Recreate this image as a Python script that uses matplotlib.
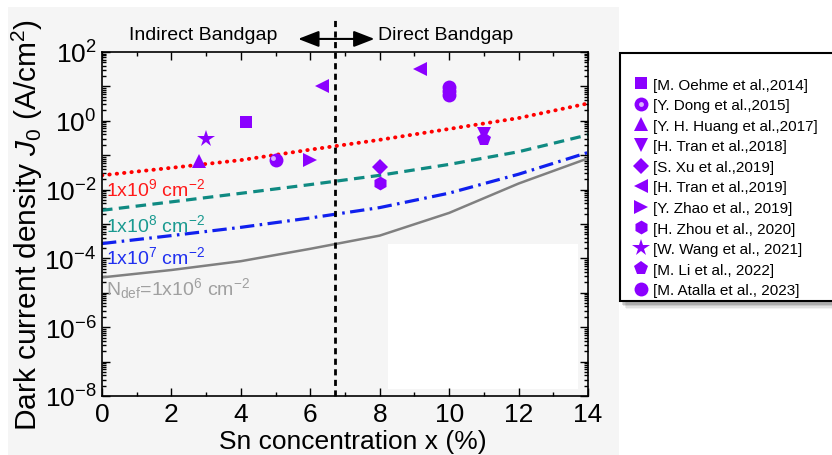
import numpy as np
import matplotlib.pyplot as plt
from matplotlib import transforms
from matplotlib.lines import Line2D
from matplotlib.patches import Rectangle
from matplotlib.legend_handler import HandlerTuple
from matplotlib.ticker import LogLocator, MultipleLocator, FuncFormatter, NullFormatter

plt.rcParams['font.family'] = ['Liberation Sans', 'DejaVu Sans']
plt.rcParams['mathtext.fontset'] = 'custom'
plt.rcParams['mathtext.rm'] = 'Liberation Sans'
plt.rcParams['mathtext.it'] = 'Liberation Sans:italic'
plt.rcParams['mathtext.bf'] = 'Liberation Sans:bold'
plt.rcParams['axes.unicode_minus'] = False

# ---- modelled dark current density vs Sn content (A/cm^2) ----
sn_model = [0, 2, 4, 6, 8, 10, 12, 14]
j0_ndef_1e9 = [0.026, 0.043, 0.072, 0.145, 0.28, 0.58, 1.2, 3.2]
j0_ndef_1e8 = [0.0025, 0.0044, 0.0078, 0.014, 0.026, 0.054, 0.126, 0.39]
j0_ndef_1e7 = [2.7e-4, 4.6e-4, 8.0e-4, 1.5e-3, 3.0e-3, 7.9e-3, 0.028, 0.12]
j0_ndef_1e6 = [2.8e-5, 4.6e-5, 8.3e-5, 1.9e-4, 4.6e-4, 2.1e-3, 0.015, 0.081]

# ---- reported GeSn detectors ----
ref_labels = ['[M. Oehme et al.,2014]', '[Y. Dong et al.,2015]',
              '[Y. H. Huang et al.,2017]', '[H. Tran et al.,2018]',
              '[S. Xu et al.,2019]', '[H. Tran et al.,2019]',
              '[Y. Zhao et al., 2019]', '[H. Zhou et al., 2020]',
              '[W. Wang et al., 2021]', '[M. Li et al., 2022]',
              '[M. Atalla et al., 2023]']
ref_markers = ['s', 'o', '^', 'v', 'D', '<', '>', 'h', '*', 'p', 'o']
ref_msize = [9, 10, 10, 10, 8, 10, 10, 10, 13, 10, 10]
ref_sn = [[4.15], [5.0], [2.8], [11.0], [8.0], [6.35, 9.15], [6.0], [8.0],
          [3.0], [11.0], [10.0, 10.0, 10.0]]
ref_j0 = [[0.92], [0.073], [0.068], [0.42], [0.046], [10.2, 31.0], [0.073],
          [0.016], [0.30], [0.29], [5.8, 7.5, 9.8]]

purple = '#8b00ff'
bg = '#f5f5f5'

fig = plt.figure(figsize=(8.32, 4.56), dpi=100)
fig.patches.append(Rectangle((8 / 832, 0), (619 - 8) / 832, 1 - 8 / 456,
                             transform=fig.transFigure, facecolor=bg,
                             edgecolor='none', zorder=-10))

ax = fig.add_axes([102 / 832, 1 - 397 / 456, (588 - 102) / 832, (397 - 53) / 456])
ax.set_facecolor(bg)
ax.set_yscale('log')
ax.set_xlim(0, 14)
ax.set_ylim(1e-8, 1e2)

# blank patch behind the lower right corner
ax.add_patch(Rectangle((8.24, 10 ** -7.8), 13.71 - 8.24, 10 ** -3.58 - 10 ** -7.8,
                       facecolor='white', edgecolor='none', zorder=0))

ax.plot(sn_model, j0_ndef_1e9, color='#ff0000', lw=2.8,
        linestyle=(0, (0.1, 1.8)), dash_capstyle='round', zorder=2)
ax.plot(sn_model, j0_ndef_1e8, color='#0f8a82', lw=2.3,
        linestyle=(0, (3.3, 2.0)), zorder=2)
ax.plot(sn_model, j0_ndef_1e7, color='#1020ee', lw=2.3,
        linestyle=(0, (4.5, 1.7, 0.8, 1.7)), zorder=2)
ax.plot(sn_model, j0_ndef_1e6, color='#808080', lw=1.8, zorder=2)

ax.text(0.12, 10 ** -1.95, r'1x10$^9$ cm$^{-2}$', color='#ff1a1a',
        fontsize=14, va='center', ha='left')
ax.text(0.12, 10 ** -3.0, r'1x10$^8$ cm$^{-2}$', color='#1a9a90',
        fontsize=14, va='center', ha='left')
ax.text(0.12, 10 ** -3.93, r'1x10$^7$ cm$^{-2}$', color='#2030f0',
        fontsize=14, va='center', ha='left')
ax.text(0.12, 10 ** -4.86, r'N$_{\mathrm{def}}$=1x10$^6$ cm$^{-2}$', color='#a0a0a0',
        fontsize=14, va='center', ha='left')

# indirect / direct crossover
ax.axvline(6.71, ymin=0, ymax=1.105, color='black', lw=2,
           linestyle=(0, (2.2, 1.6)), clip_on=False, zorder=3)
ax.annotate('', xy=(5.65, 1.038), xytext=(7.85, 1.038),
            xycoords=('data', 'axes fraction'), textcoords=('data', 'axes fraction'),
            arrowprops=dict(arrowstyle='<|-|>, head_length=0.9, head_width=0.35',
                            color='black', lw=1.5, mutation_scale=14,
                            shrinkA=0, shrinkB=0), annotation_clip=False)
ax.text(5.04, 1.05, 'Indirect Bandgap', transform=ax.get_xaxis_transform(),
        ha='right', va='center', fontsize=14)
ax.text(7.95, 1.05, 'Direct Bandgap', transform=ax.get_xaxis_transform(),
        ha='left', va='center', fontsize=14)

handles = []
for lab, mk, ms, xs, ys in zip(ref_labels, ref_markers, ref_msize, ref_sn, ref_j0):
    ax.plot(xs, ys, linestyle='none', marker=mk, ms=ms, color=purple,
            markeredgewidth=0, zorder=4)
    h = Line2D([], [], linestyle='none', marker=mk, ms=ms, color=purple,
               markeredgewidth=0)
    if lab.startswith('[Y. Dong'):
        # shaded sphere: light spot towards the upper left
        shift = transforms.offset_copy(ax.transData, fig=fig, x=-1.5, y=1.5, units='points')
        ax.plot(xs, ys, linestyle='none', marker='o', ms=3.5, color='#d8b0ff',
                markeredgewidth=0, transform=shift, zorder=5)
        hi = Line2D([], [], linestyle='none', marker='o', ms=3.5, color='#d8b0ff',
                    markeredgewidth=0)
        h = (h, hi)
    handles.append(h)

# axes styling
ax.xaxis.set_major_locator(MultipleLocator(2))
ax.xaxis.set_minor_locator(MultipleLocator(1))
ax.yaxis.set_major_locator(LogLocator(base=10, numticks=20))
ax.yaxis.set_minor_locator(LogLocator(base=10, subs=np.arange(2, 10), numticks=20))
ax.yaxis.set_minor_formatter(NullFormatter())


def decade_label(v, pos):
    e = int(round(np.log10(v)))
    return r'$10^{%d}$' % e if e % 2 == 0 else ''


ax.yaxis.set_major_formatter(FuncFormatter(decade_label))
ax.tick_params(which='both', direction='in', top=True, right=True, width=1)
ax.tick_params(which='major', length=6, labelsize=19, pad=4)
ax.tick_params(which='minor', length=3)
for sp in ax.spines.values():
    sp.set_linewidth(1.2)

ax.set_xlabel('Sn concentration x (%)', fontsize=19)
ax.xaxis.set_label_coords(0.516, -0.097)
ax.set_ylabel(r'Dark current density $J_0$ (A/cm$^2$)', fontsize=21.5)
ax.yaxis.set_label_coords(-0.118, 0.5)

# legend box with drop shadow, running off the right edge
bx0, by0, bx1, by1 = 620 / 832, 1 - 302 / 456, 845 / 832, 1 - 54 / 456
for i, a in enumerate([0.05, 0.07, 0.10, 0.14]):
    d = (4 - i) * 1.5
    fig.patches.append(Rectangle((bx0 + d / 832, by0 - (2 + d) / 456), bx1 - bx0,
                                 by1 - by0, transform=fig.transFigure,
                                 facecolor='black', alpha=a, edgecolor='none', zorder=1))
fig.patches.append(Rectangle((bx0, by0), bx1 - bx0, by1 - by0, transform=fig.transFigure,
                             facecolor='white', edgecolor='black', lw=1.5, zorder=2))

leg = fig.legend(handles, ref_labels, loc='upper left',
                 bbox_to_anchor=(626 / 832, 1 - 71 / 456), frameon=False,
                 fontsize=11, handlelength=0.9, handletextpad=0.35,
                 labelspacing=0.43, borderpad=0,
                 handler_map={tuple: HandlerTuple(ndivide=1)})
leg.set_zorder(5)

fig.savefig('out.png', dpi=100)
